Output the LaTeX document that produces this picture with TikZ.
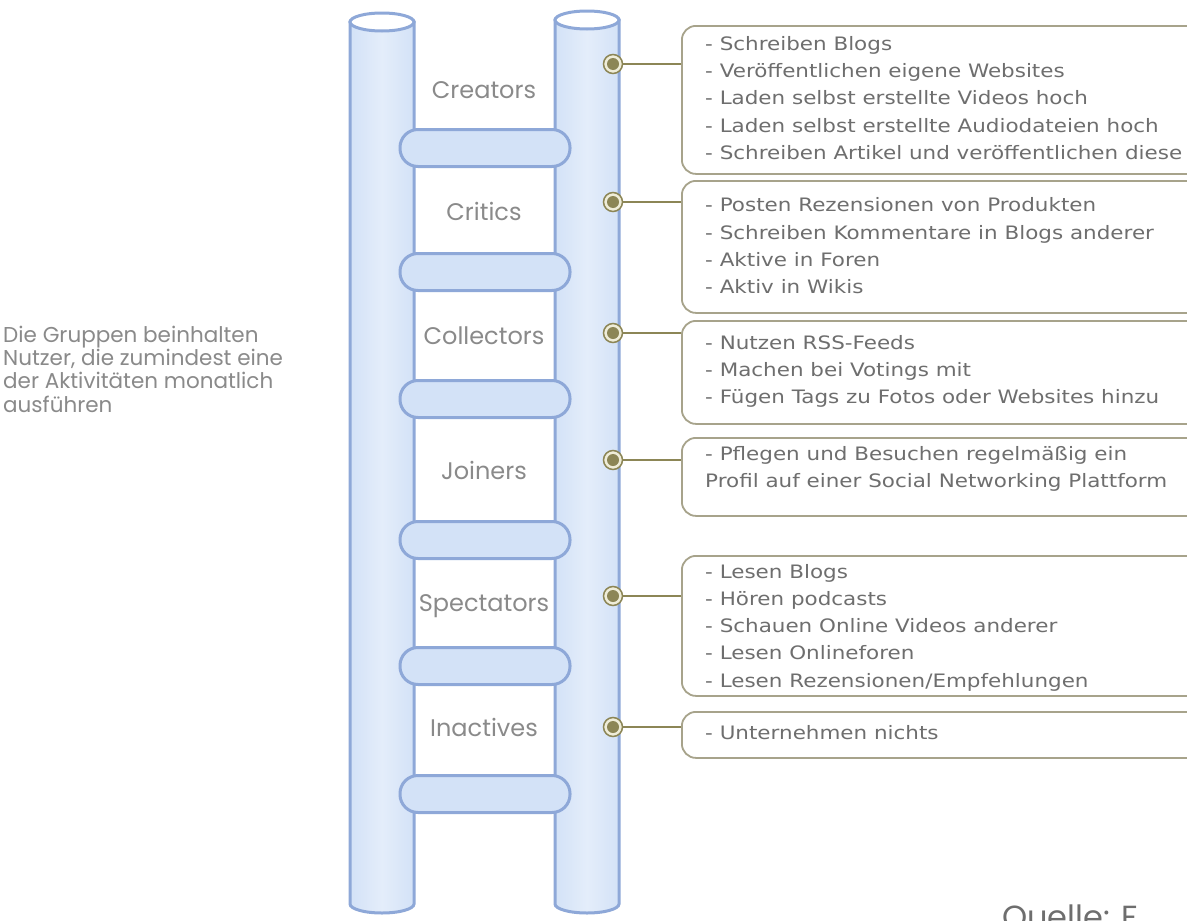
\documentclass[tikz,border=0pt]{standalone}
\usepackage{fontspec}
\setmainfont{DejaVu Sans}
\newfontfamily\boxfont{DejaVu Sans}[FakeStretch=1.16]
\newfontfamily\geo{Poppins}
\definecolor{polefill}{HTML}{D3E2F7}
\definecolor{polelight}{HTML}{E4EDFA}
\definecolor{poleline}{HTML}{8EA8D8}
\definecolor{boxline}{HTML}{A7A38B}
\definecolor{olive}{HTML}{8C8656}
\definecolor{cream}{HTML}{EFEDD9}
\definecolor{txt}{HTML}{6E6E6E}
\definecolor{lbl}{HTML}{8A8A8A}
\begin{document}
\begin{tikzpicture}[x=1pt,y=-1pt,
  pole/.style={draw=poleline,line width=3pt,left color=polefill,right color=polefill,middle color=polelight},
  rung/.style={fill=polefill,draw=poleline,line width=3pt,rounded corners=18pt},
  info/.style={draw=boxline,line width=1.8pt,rounded corners=14pt,fill=white,anchor=north west,minimum width=540pt,inner sep=0pt},
  dot/.style={circle,draw=olive,line width=1.5pt,fill=cream,minimum size=19pt,inner sep=0pt,
    path picture={\fill[olive] (path picture bounding box.center) circle (6pt);}},
  link/.style={draw=olive,line width=2pt},
  itemtext/.style={anchor=west,inner sep=0pt,align=left,font=\boxfont\fontsize{18.5}{27.3}\selectfont,text=txt},
  rungtext/.style={font=\geo\fontsize{24}{28}\selectfont,text=lbl,inner sep=0pt},
]
\useasboundingbox (0,0) rectangle (1187,921);
\clip (0,0) rectangle (1187,921);
\fill[white] (0,0) rectangle (1187,921);

% poles
\path[pole] (350,22) -- (350,904) arc[start angle=180,end angle=0,x radius=32,y radius=9] -- (414,22) -- cycle;
\draw[poleline,line width=3pt,fill=white] (382,22) ellipse [x radius=32,y radius=9];
\path[pole] (555,20) -- (555,904) arc[start angle=180,end angle=0,x radius=32,y radius=9] -- (619,20) -- cycle;
\draw[poleline,line width=3pt,fill=white] (587,20) ellipse [x radius=32,y radius=9];

% rungs
\foreach \y in {148,272,399,540,666,794}{
  \draw[rung] (400,\y-18.5) rectangle (570,\y+18.5);
}

% rung labels
\node[rungtext] (l1) at (484,90) {Creators};
\node[rungtext] (l2) at (484,211) {Critics};
\node[rungtext] (l3) at (484,336) {Collectors};
\node[rungtext] (l4) at (484,470) {Joiners};
\node[rungtext] (l5) at (484,606) {Spectators};
\node[rungtext] (l6) at (484,727) {Inactives};

% boxes
\node[info,minimum height=148pt] (b1) at (681,25) {};
\node[info,minimum height=132pt] (b2) at (681,180) {};
\node[info,minimum height=103pt] (b3) at (681,320) {};
\node[info,minimum height=78pt] (b4) at (681,437) {};
\node[info,minimum height=140pt] (b5) at (681,555) {};
\node[info,minimum height=46pt] (b6) at (681,711) {};

% texts
\node[itemtext] (t1) at (705,98) {- Schreiben Blogs\\- Veröffentlichen eigene Websites\\- Laden selbst erstellte Videos hoch\\- Laden selbst erstellte Audiodateien hoch\\- Schreiben Artikel und veröffentlichen diese};
\node[itemtext] (t2) at (705,246) {- Posten Rezensionen von Produkten\\- Schreiben Kommentare in Blogs anderer\\- Aktive in Foren\\- Aktiv in Wikis};
\node[itemtext] (t3) at (705,371.5) {- Nutzen RSS-Feeds\\- Machen bei Votings mit\\- Fügen Tags zu Fotos oder Websites hinzu};
\node[itemtext] (t4) at (705,469) {- Pflegen und Besuchen regelmäßig ein\\Profil auf einer Social Networking Plattform};
\node[itemtext] (t5) at (705,627.5) {- Lesen Blogs\\- Hören podcasts\\- Schauen Online Videos anderer\\- Lesen Onlineforen\\- Lesen Rezensionen/Empfehlungen};
\node[itemtext] (t6) at (705,733) {- Unternehmen nichts};

% dots and links
\foreach \i/\y in {1/64,2/202,3/333,4/460,5/596,6/727}{
  \node[dot] (d\i) at (613,\y) {};
  \draw[link] (d\i.east) -- (d\i -| b\i.west);
}

% side note
\node[anchor=west,inner sep=0pt,align=left,font=\geo\fontsize{21.5}{23.3}\selectfont,text=lbl] (note) at (3,369)
  {Die Gruppen beinhalten\\Nutzer, die zumindest eine\\der Aktivitäten monatlich\\ausführen};

% source (cut off at the bottom edge, as in the original)
\node[anchor=north west,inner sep=0pt,font=\geo\fontsize{32}{36}\selectfont,text=txt] (src) at (1002,905) {Quelle: F};
\end{tikzpicture}
\end{document}
